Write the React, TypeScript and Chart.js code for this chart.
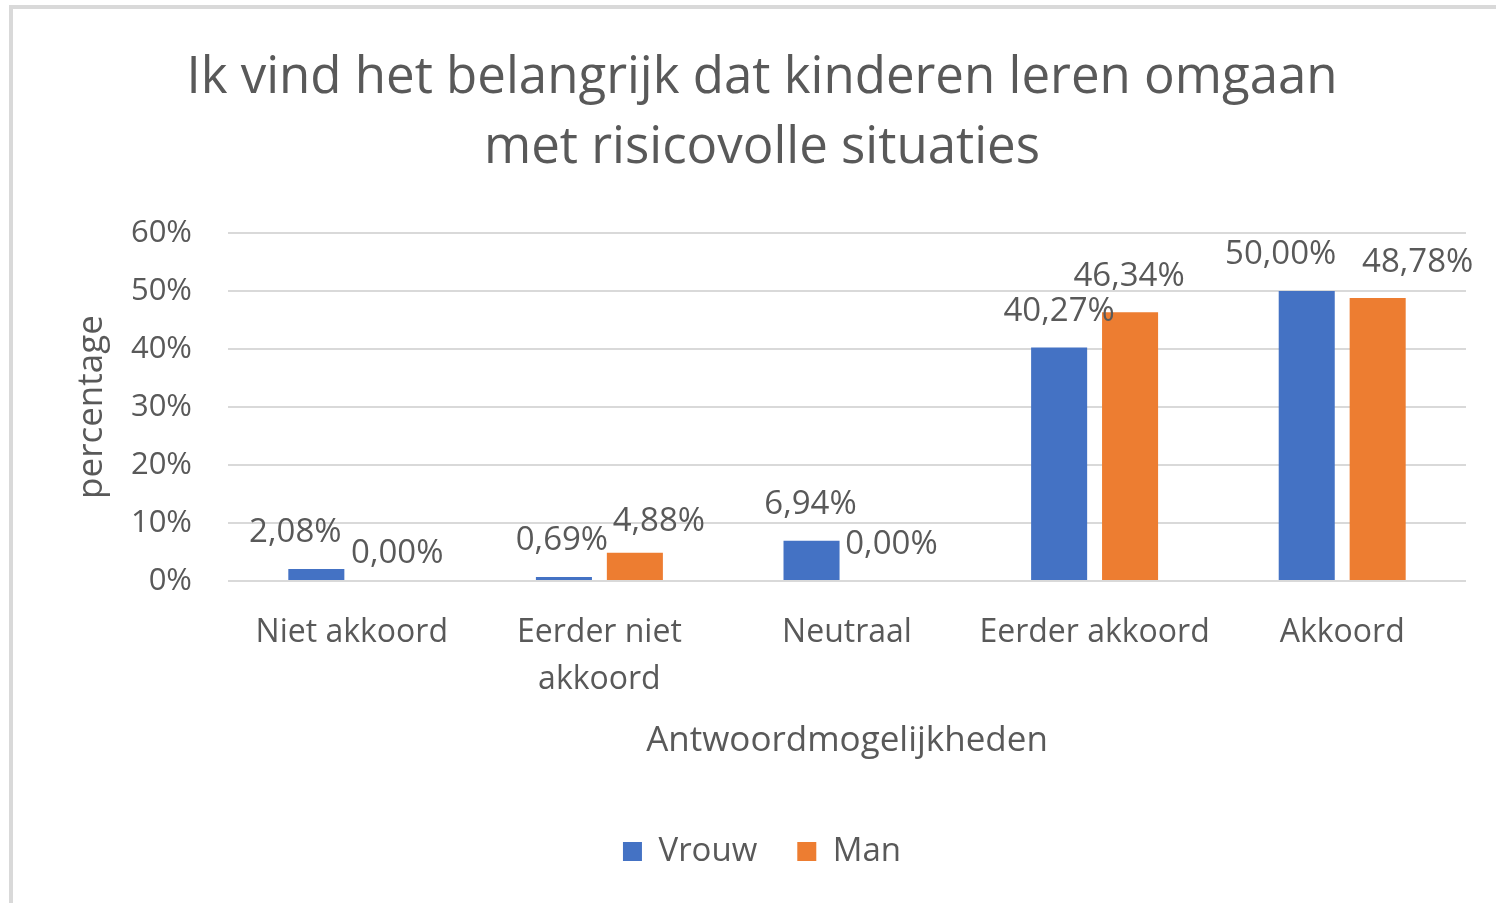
import React, { useEffect, useRef } from "react";
import { Chart, registerables } from "chart.js";

Chart.register(...registerables);

const categories: (string | string[])[] = [
  "Niet akkoord",
  ["Eerder niet", "akkoord"],
  "Neutraal",
  "Eerder akkoord",
  "Akkoord",
];
const vrouwValues = [2.08, 0.69, 6.94, 40.27, 50.0];
const manValues = [0.0, 4.88, 0.0, 46.34, 48.78];
const seriesNames = ["Vrouw", "Man"];
const titleLines = ["Ik vind het belangrijk dat kinderen leren omgaan", "met risicovolle situaties"];
const xTitle = "Antwoordmogelijkheden";
const yTitle = "percentage";

// label placement tweaks (styling only)
const labelDx = [
  [-21, -2, -1, 0, -26],
  [10, 24, 9, -1, 40],
];
const labelDy = [
  [0, 0, 0, 0, 0],
  [9, 5, 0, 0, 0],
];

const FONT = "'Open Sans', 'Noto Sans', sans-serif";
const GRAY = "#595959";

const fmt = (v: number) => v.toFixed(2).replace(".", ",") + "%";

const dataLabelPlugin = {
  id: "dataLabels",
  afterDatasetsDraw(chart: any) {
    const ctx = chart.ctx;
    ctx.save();
    ctx.font = `33px ${FONT}`;
    ctx.fillStyle = GRAY;
    ctx.textAlign = "center";
    ctx.textBaseline = "middle";
    chart.data.datasets.forEach((ds: any, di: number) => {
      const meta = chart.getDatasetMeta(di);
      meta.data.forEach((bar: any, i: number) => {
        const v = ds.data[i] as number;
        ctx.fillText(fmt(v), bar.x + labelDx[di][i], bar.y - 36 + labelDy[di][i]);
      });
    });
    ctx.restore();
  },
};

export default function App() {
  const ref = useRef<HTMLCanvasElement>(null);
  useEffect(() => {
    if (!ref.current) return;
    const chart = new Chart(ref.current, {
      type: "bar",
      data: {
        labels: categories,
        datasets: [
          {
            label: seriesNames[0],
            data: vrouwValues,
            backgroundColor: "#4472C4",
            categoryPercentage: 0.573,
            barPercentage: 0.79,
          },
          {
            label: seriesNames[1],
            data: manValues,
            backgroundColor: "#ED7D31",
            categoryPercentage: 0.573,
            barPercentage: 0.79,
          },
        ],
      },
      options: {
        animation: false,
        responsive: false,
        maintainAspectRatio: false,
        layout: { padding: { left: 58, right: 30, top: 43, bottom: 25 } },
        plugins: {
          title: {
            display: true,
            text: titleLines,
            color: GRAY,
            font: { family: FONT, size: 51, weight: "normal", lineHeight: 1.373 },
            padding: { top: 0, bottom: 50 },
          },
          legend: {
            position: "bottom",
            labels: {
              color: GRAY,
              font: { family: FONT, size: 33 },
              boxWidth: 19,
              boxHeight: 19,
              padding: 40,
              useBorderRadius: false,
            },
          },
          tooltip: { enabled: false },
        },
        scales: {
          x: {
            grid: { display: false, drawTicks: false },
            border: { display: false },
            ticks: {
              color: GRAY,
              font: { family: FONT, size: 32, lineHeight: 1.46 },
              padding: 29,
              maxRotation: 0,
              autoSkip: false,
            },
            title: {
              display: true,
              text: xTitle,
              color: GRAY,
              font: { family: FONT, size: 35 },
              padding: { top: 0, bottom: 33 },
            },
            afterFit: (s: any) => {
              s.height = 214;
            },
          },
          y: {
            min: 0,
            max: 60,
            grid: { color: "#d9d9d9", lineWidth: 2, drawTicks: false },
            border: { display: false },
            ticks: {
              stepSize: 10,
              color: GRAY,
              font: { family: FONT, size: 31 },
              padding: 36,
              callback: (v: any) => v + "%",
            },
            title: {
              display: true,
              text: yTitle,
              color: GRAY,
              font: { family: FONT, size: 35 },
              padding: { top: 13, bottom: 0 },
            },
            afterFit: (s: any) => {
              s.width = 170;
            },
          },
        },
      },
      plugins: [dataLabelPlugin],
    });
    return () => chart.destroy();
  }, []);

  return (
    <div
      style={{
        position: "fixed",
        left: 0,
        top: 0,
        width: 1496,
        height: 903,
        overflow: "hidden",
        background: "#fff",
      }}
    >
      <div
        style={{
          position: "absolute",
          left: 9,
          top: 5,
          width: 1600,
          height: 1000,
          borderLeft: "4px solid #d9d9d9",
          borderTop: "4px solid #d9d9d9",
        }}
      />
      <canvas ref={ref} width={1496} height={903} style={{ position: "absolute", left: 0, top: 0 }} />
    </div>
  );
}
